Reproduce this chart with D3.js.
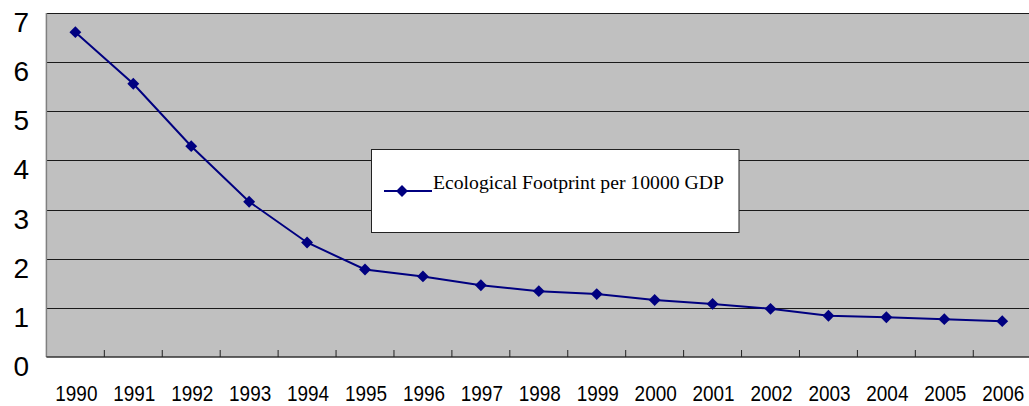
<!DOCTYPE html>
<html>
<head>
<meta charset="utf-8">
<script src="https://cdn.jsdelivr.net/npm/d3@7"></script>
<style>
  body { margin: 0; background: #fff; }
  svg { display: block; }
</style>
</head>
<body>
<div id="chart"></div>
<script>
const years = ["1990","1991","1992","1993","1994","1995","1996","1997","1998","1999","2000","2001","2002","2003","2004","2005","2006"];
const footprint = [6.61, 5.56, 4.29, 3.16, 2.33, 1.78, 1.64, 1.46, 1.34, 1.28, 1.16, 1.08, 0.98, 0.84, 0.81, 0.77, 0.73];
const yTicks = [0, 1, 2, 3, 4, 5, 6, 7];
const seriesName = "Ecological Footprint per 10000 GDP";

const width = 1029;
const height = 406;
const margin = { left: 46.4, top: 13, bottom: 49 };
const plotRight = 1031.2;

const svg = d3.select("#chart")
  .append("svg")
  .attr("width", width)
  .attr("height", height);

const x = d3.scaleBand().domain(years).range([margin.left, plotRight]);
const y = d3.scaleLinear().domain([0, 7]).range([height - margin.bottom, margin.top]);

// plot background
svg.append("rect")
  .attr("x", margin.left)
  .attr("y", y(7))
  .attr("width", plotRight - margin.left)
  .attr("height", y(0) - y(7))
  .attr("fill", "#c0c0c0");

// gridlines
svg.append("g")
  .selectAll("line")
  .data(yTicks.filter(d => d > 0))
  .join("line")
  .attr("x1", margin.left)
  .attr("x2", plotRight)
  .attr("y1", d => Math.round(y(d)) + 0.5)
  .attr("y2", d => Math.round(y(d)) + 0.5)
  .attr("stroke", "#1a1a1a")
  .attr("stroke-width", 1.2);

// axis lines
svg.append("line")
  .attr("x1", margin.left).attr("x2", margin.left)
  .attr("y1", y(7)).attr("y2", y(0))
  .attr("stroke", "#808080").attr("stroke-width", 1.5);
svg.append("line")
  .attr("x1", margin.left).attr("x2", plotRight)
  .attr("y1", y(0)).attr("y2", y(0))
  .attr("stroke", "#333").attr("stroke-width", 1.5);

// x ticks between categories, pointing inward
svg.append("g")
  .selectAll("line")
  .data(years.slice(1))
  .join("line")
  .attr("x1", d => x(d))
  .attr("x2", d => x(d))
  .attr("y1", y(0))
  .attr("y2", y(0) - 7)
  .attr("stroke", "#222")
  .attr("stroke-width", 1);

// y labels
svg.append("g")
  .selectAll("text")
  .data(yTicks)
  .join("text")
  .attr("x", 29)
  .attr("y", d => y(d) + 19)
  .attr("text-anchor", "end")
  .style("font", "28px 'Liberation Sans', Arial, sans-serif")
  .attr("fill", "#000")
  .text(d => d);

// x labels (slightly condensed, like the original)
svg.append("g")
  .selectAll("text")
  .data(years)
  .join("text")
  .attr("transform", d => `translate(${x(d) + x.bandwidth() / 2 + 1},401) scale(0.88,1)`)
  .attr("text-anchor", "middle")
  .style("font", "21.5px 'Liberation Sans', Arial, sans-serif")
  .attr("fill", "#000")
  .text(d => d);

// series line
const line = d3.line()
  .x((d, i) => x(years[i]) + x.bandwidth() / 2)
  .y(d => y(d));

svg.append("path")
  .datum(footprint)
  .attr("d", line)
  .attr("fill", "none")
  .attr("stroke", "#000080")
  .attr("stroke-width", 2);

const diamond = d3.symbol().type(d3.symbolDiamond2).size(90);

svg.append("g")
  .selectAll("path")
  .data(footprint)
  .join("path")
  .attr("transform", (d, i) => `translate(${x(years[i]) + x.bandwidth() / 2},${y(d)})`)
  .attr("d", diamond)
  .attr("fill", "#000080");

// legend
const legend = svg.append("g");
legend.append("rect")
  .attr("x", 371.5)
  .attr("y", 149.5)
  .attr("width", 367.5)
  .attr("height", 83)
  .attr("fill", "#fff")
  .attr("stroke", "#222")
  .attr("stroke-width", 1);
legend.append("line")
  .attr("x1", 384).attr("x2", 432)
  .attr("y1", 191).attr("y2", 191)
  .attr("stroke", "#000080").attr("stroke-width", 2);
legend.append("path")
  .attr("transform", "translate(402,191)")
  .attr("d", diamond)
  .attr("fill", "#000080");
legend.append("text")
  .attr("x", 433)
  .attr("y", 189)
  .style("font", "19.7px 'Liberation Serif', 'Times New Roman', serif")
  .attr("fill", "#000")
  .text(seriesName);
</script>
</body>
</html>
